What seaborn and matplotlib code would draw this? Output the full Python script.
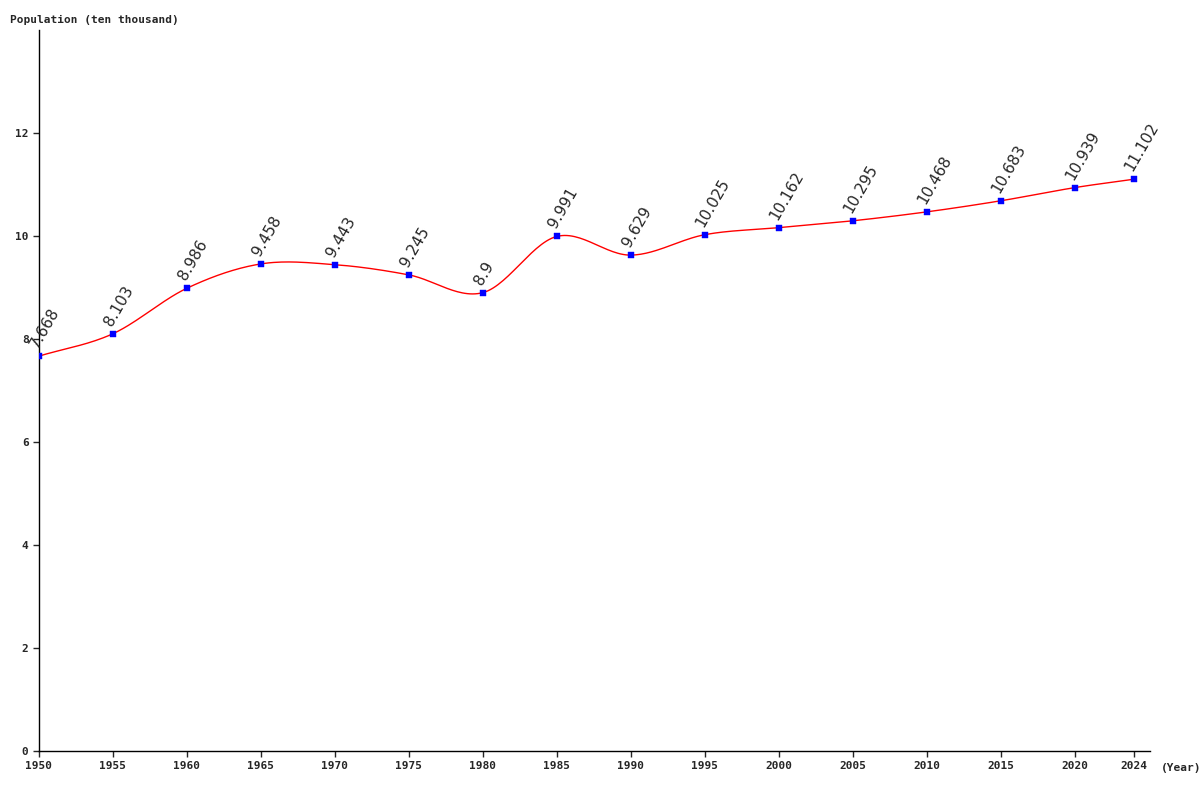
import numpy as np
import matplotlib
matplotlib.use("Agg")
import matplotlib.pyplot as plt
import seaborn as sns
import pandas as pd

years = [1950, 1955, 1960, 1965, 1970, 1975, 1980, 1985, 1990, 1995, 2000, 2005, 2010, 2015, 2020, 2024]
population = [7.668, 8.103, 8.986, 9.458, 9.443, 9.245, 8.9, 9.991, 9.629, 10.025, 10.162, 10.295, 10.468, 10.683, 10.939, 11.102]
labels = ["7.668", "8.103", "8.986", "9.458", "9.443", "9.245", "8.9", "9.991", "9.629", "10.025", "10.162", "10.295", "10.468", "10.683", "10.939", "11.102"]

sns.set_style("white")
fig = plt.figure(figsize=(12, 8), dpi=100)
ax = fig.add_axes([0.0325, 0.06125, 0.9258, 0.90125])

# smooth line (Catmull-Rom, style only)
x = np.array(years, float); y = np.array(population, float)
xs, ys = [], []
for i in range(len(x) - 1):
    p0 = i - 1 if i > 0 else i
    p3 = i + 2 if i + 2 < len(x) else i + 1
    h = x[i + 1] - x[i]
    m1 = (y[i + 1] - y[p0]) / (x[i + 1] - x[p0]) * h
    m2 = (y[p3] - y[i]) / (x[p3] - x[i]) * h
    t = np.linspace(0, 1, 30)
    h00 = 2*t**3 - 3*t**2 + 1; h10 = t**3 - 2*t**2 + t
    h01 = -2*t**3 + 3*t**2; h11 = t**3 - t**2
    xs.extend(x[i] + t*h); ys.extend(h00*y[i] + h10*m1 + h01*y[i+1] + h11*m2)
ax.plot(xs, ys, color="red", lw=1)

df = pd.DataFrame({"year": years, "pop": population})
sns.scatterplot(data=df, x="year", y="pop", ax=ax, color="blue", marker="s", s=14, edgecolor="blue", zorder=3)

for xx, yy, lab in zip(years, population, labels):
    ax.annotate(lab, (xx, yy), xytext=(1, 4), textcoords="offset points", rotation=60,
                fontsize=11, ha="left", va="bottom", rotation_mode="anchor", family="DejaVu Sans")

ax.set_xlim(1950, 2025.1)
ax.set_ylim(0, 14)
ax.set_xticks(years)
ax.set_yticks([0, 2, 4, 6, 8, 10, 12])
mono = dict(family="DejaVu Sans Mono", fontsize=8, fontweight="bold")
ax.set_xticklabels([str(v) for v in years], **mono)
ax.set_yticklabels(["0", "2", "4", "6", "8", "10", "12"], **mono)
ax.tick_params(axis="both", length=4, width=1, direction="out", bottom=True, left=True)
for s in ["top", "right"]:
    ax.spines[s].set_visible(False)
for s in ["left", "bottom"]:
    ax.spines[s].set_color("black"); ax.spines[s].set_linewidth(1)
ax.set_xlabel(""); ax.set_ylabel("")
fig.text(0.008, 0.975, "Population (ten thousand)", ha="left", va="center", **mono)
fig.text(0.967, 0.04, "(Year)", ha="left", va="center", **mono)
fig.savefig("out.png", dpi=100)
